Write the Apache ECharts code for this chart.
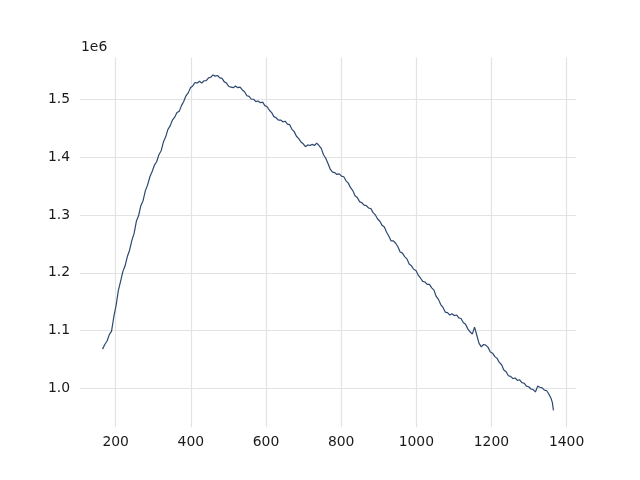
<!DOCTYPE html>
<html>
<head>
<meta charset="utf-8">
<script src="https://cdn.jsdelivr.net/npm/echarts@6/dist/echarts.min.js"></script>
<style>html,body{margin:0;padding:0;background:#fff;}#c{width:640px;height:480px;}</style>
</head>
<body>
<div id="c"></div>
<script>
const xValues = [165,171,177,183,189,195,201,207,213,219,225,231,237,243,249,255,261,267,273,279,285,291,297,303,309,315,321,327,333,339,345,351,357,363,369,375,381,387,393,399,405,411,417,423,429,435,441,447,453,459,465,471,477,483,489,495,501,507,513,519,525,531,537,543,549,555,561,567,573,579,585,591,597,603,609,615,621,627,633,639,645,651,657,663,669,675,681,687,693,699,705,711,717,723,729,735,741,747,753,759,765,771,777,783,789,795,801,807,813,819,825,831,837,843,849,855,861,867,873,879,885,891,897,903,909,915,921,927,933,939,945,951,957,963,969,975,981,987,993,999,1005,1011,1017,1023,1029,1035,1041,1047,1053,1059,1065,1071,1077,1083,1089,1095,1101,1107,1113,1119,1125,1131,1137,1143,1149,1155,1161,1167,1173,1179,1185,1191,1197,1203,1209,1215,1221,1227,1233,1239,1245,1251,1257,1263,1269,1275,1281,1287,1293,1299,1305,1311,1317,1323,1329,1335,1341,1347,1353,1359,1362,1365];
const yValues = [1068000,1076000,1082000,1093000,1099000,1124000,1143000,1169000,1185000,1202000,1212000,1228000,1239000,1256000,1268000,1289000,1299000,1316000,1325000,1342000,1352000,1366000,1375000,1386000,1392000,1404000,1411000,1426000,1435000,1448000,1454000,1464000,1469000,1477000,1479000,1489000,1496000,1506000,1511000,1520000,1523000,1529000,1528000,1531000,1528000,1532000,1532000,1537000,1538000,1542000,1540000,1541000,1537000,1536000,1530000,1528000,1522000,1521000,1520000,1523000,1520000,1521000,1516000,1513000,1506000,1505000,1500000,1500000,1496000,1497000,1494000,1495000,1489000,1487000,1481000,1477000,1470000,1468000,1464000,1464000,1461000,1462000,1457000,1456000,1448000,1444000,1436000,1432000,1426000,1423000,1418000,1421000,1420000,1422000,1420000,1424000,1420000,1415000,1404000,1398000,1389000,1379000,1374000,1373000,1370000,1371000,1367000,1366000,1359000,1355000,1347000,1342000,1333000,1330000,1323000,1321000,1317000,1316000,1312000,1311000,1304000,1300000,1293000,1289000,1282000,1279000,1270000,1263000,1255000,1255000,1251000,1245000,1236000,1234000,1228000,1224000,1215000,1212000,1206000,1204000,1196000,1191000,1185000,1184000,1180000,1180000,1174000,1170000,1159000,1154000,1145000,1140000,1132000,1131000,1127000,1129000,1126000,1127000,1122000,1121000,1114000,1111000,1103000,1098000,1094000,1106000,1092000,1078000,1072000,1076000,1075000,1071000,1063000,1061000,1055000,1052000,1045000,1041000,1032000,1029000,1022000,1021000,1017000,1018000,1014000,1015000,1010000,1009000,1004000,1003000,999000,998000,994000,1004000,1002000,1001000,997000,996000,990000,982000,976000,962000];

const xTicks = [200,400,600,800,1000,1200,1400];
const yTicks = [1000000,1100000,1200000,1300000,1400000,1500000];

const chart = echarts.init(document.getElementById('c'), null, {renderer:'canvas'});
const data = xValues.map((x,i)=>[x, yValues[i]]);
const font = 'DejaVu Sans';
chart.setOption({
  animation:false,
  backgroundColor:'#ffffff',
  grid:{left:80,right:64,top:57.6,bottom:52.8,containLabel:false},
  xAxis:{
    type:'value', min:105, max:1425,
    axisLine:{show:false},
    axisTick:{show:false, customValues:xTicks},
    axisLabel:{customValues:xTicks, color:'#1a1a1a', fontFamily:font, fontSize:13.9, margin:8,
      formatter:function(v){return String(v);}},
    splitLine:{show:true, lineStyle:{color:'#e3e3e3', width:1.2}}
  },
  yAxis:{
    type:'value', min:933000, max:1572000,
    axisLine:{show:false},
    axisTick:{show:false, customValues:yTicks},
    axisLabel:{customValues:yTicks, color:'#1a1a1a', fontFamily:font, fontSize:13.9, margin:10,
      formatter:function(v){return (v/1e6).toFixed(1);}},
    splitLine:{show:true, lineStyle:{color:'#e3e3e3', width:1.2}}
  },
  graphic:[{type:'text', left:81, top:40, style:{text:'1e6', font:'13.9px "DejaVu Sans"', fill:'#1a1a1a'}}],
  series:[{
    type:'line', data:data, showSymbol:false, symbol:'none',
    lineStyle:{color:'#2c4870', width:1.2}
  }]
});
</script>
</body>
</html>
